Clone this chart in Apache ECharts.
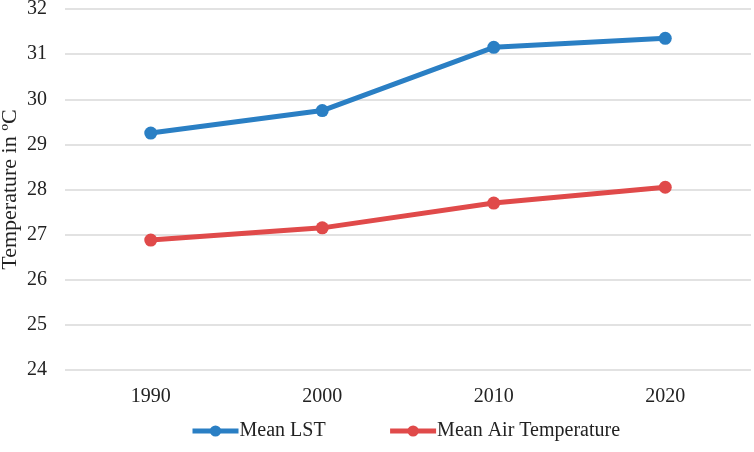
<!DOCTYPE html>
<html>
<head>
<meta charset="utf-8">
<script src="https://cdn.jsdelivr.net/npm/echarts@6/dist/echarts.min.js"></script>
<style>
  html, body { margin: 0; padding: 0; background: #fff; }
  #main { width: 754px; height: 452px; }
</style>
</head>
<body>
<div id="main"></div>
<script>
// data
var years = ['1990', '2000', '2010', '2020'];
var meanLST = [29.25, 29.75, 31.15, 31.35];
var meanAir = [26.88, 27.15, 27.7, 28.05];

var myChart = echarts.init(document.getElementById('main'));

var font = '"Liberation Serif", "Times New Roman", serif';

var option = {
    animation: false,
    textStyle: { fontFamily: font },
    grid: { left: 65, right: 3, top: 9, bottom: 82, outerBoundsMode: 'none', containLabel: false },
    legend: {
        bottom: 6,
        left: 185,
        itemGap: 62,
        itemWidth: 46,
        itemHeight: 14,
        lineStyle: { width: 5 },
        textStyle: { fontFamily: font, fontSize: 20, color: '#222', padding: [0, 0, 0, -4] },
        data: ['Mean LST', 'Mean Air Temperature']
    },
    xAxis: {
        type: 'category',
        data: years,
        boundaryGap: true,
        axisLine: { show: false },
        axisTick: { show: false },
        axisLabel: { fontFamily: font, fontSize: 20, color: '#222', margin: 17 }
    },
    yAxis: {
        type: 'value',
        min: 24,
        max: 32,
        interval: 1,
        name: 'Temperature in ºC',
        nameLocation: 'middle',
        nameGap: 44,
        nameMoveOverlap: false,
        nameTextStyle: { fontFamily: font, fontSize: 22, color: '#222' },
        axisLine: { show: false },
        axisTick: { show: false },
        axisLabel: { fontFamily: font, fontSize: 20, color: '#222', margin: 18 },
        splitLine: { lineStyle: { color: '#d9d9d9', width: 1.5 } }
    },
    series: [
        {
            name: 'Mean LST',
            type: 'line',
            data: meanLST,
            symbol: 'circle',
            symbolSize: 13,
            lineStyle: { width: 5, color: '#2a7fc4' },
            itemStyle: { color: '#2a7fc4' }
        },
        {
            name: 'Mean Air Temperature',
            type: 'line',
            data: meanAir,
            symbol: 'circle',
            symbolSize: 13,
            lineStyle: { width: 5, color: '#e04a4a' },
            itemStyle: { color: '#e04a4a' }
        }
    ]
};

myChart.setOption(option);
</script>
</body>
</html>
